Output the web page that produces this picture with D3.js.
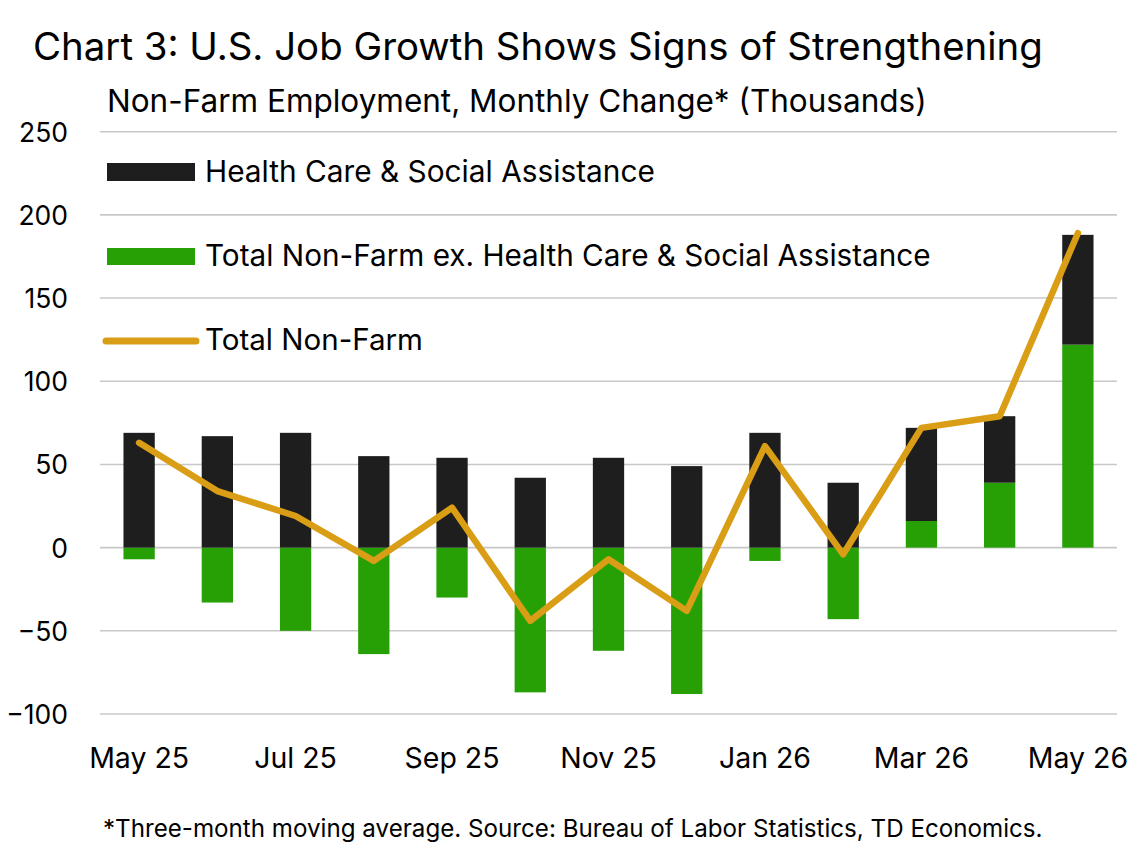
<!DOCTYPE html>
<html><head><meta charset="utf-8">
<script src="https://cdn.jsdelivr.net/npm/d3@7"></script>
<style>body{margin:0;background:#fff}svg{display:block}text{font-family:Inter,"Noto Sans",sans-serif;fill:#000}</style>
</head><body><svg id="c" width="1138" height="850"></svg>
<script>
const months = ["May 25","Jun 25","Jul 25","Aug 25","Sep 25","Oct 25","Nov 25","Dec 25","Jan 26","Feb 26","Mar 26","Apr 26","May 26"];
const healthCare = [69,67,69,55,54,42,54,49,69,39,56,40,66];
const exHealthCare = [-7,-33,-50,-64,-30,-87,-62,-88,-8,-43,16,39,122];
const totalNonFarm = [63,34,19,-8,24,-44,-7,-38,61,-4,72,79,189];
const yTicks = [-100,-50,0,50,100,150,200,250];
const xTickLabels = ["May 25","Jul 25","Sep 25","Nov 25","Jan 26","Mar 26","May 26"];
const legendLabels = ["Health Care & Social Assistance","Total Non-Farm ex. Health Care & Social Assistance","Total Non-Farm"];

const svg = d3.select("#c");
const C = {black:"#1e1e1e", green:"#26a005", gold:"#d99e15", grid:"#c8c8c8"};
const x = d3.scaleBand().domain(months).range([100,1117]);
const y = d3.scaleLinear().domain([-100,250]).range([714,131.7]);
const bw = x.bandwidth()*0.4;

function fit(sel, w){ const n=sel.node(); const fs=parseFloat(sel.attr("font-size")); const cw=n.getComputedTextLength(); sel.attr("font-size", fs*w/cw); }

// grid
svg.append("g").selectAll("line").data(yTicks).join("line")
  .attr("x1",100).attr("x2",1117).attr("y1",d=>y(d)).attr("y2",d=>y(d))
  .attr("stroke",C.grid).attr("stroke-width",1.6);

// y labels
const yAxis = d3.axisLeft(y).tickValues(yTicks).tickSize(0).tickPadding(0);
const ya = svg.append("g").attr("transform","translate(68,0)").call(yAxis);
ya.select(".domain").remove();
ya.selectAll("text").attr("font-size",26.5).attr("font-family","Inter").attr("fill","#000").attr("dy","0.36em");

// bars
const rows = months.map((m,i)=>({m,h:healthCare[i],e:exHealthCare[i],t:totalNonFarm[i]}));
const g = svg.append("g");
g.selectAll(".e").data(rows).join("rect")
  .attr("x",d=>x(d.m)+x.bandwidth()/2-bw/2).attr("width",bw)
  .attr("y",d=>y(Math.max(0,d.e))).attr("height",d=>Math.abs(y(d.e)-y(0)))
  .attr("fill",C.green);
g.selectAll(".h").data(rows).join("rect")
  .attr("x",d=>x(d.m)+x.bandwidth()/2-bw/2).attr("width",bw)
  .attr("y",d=>y(Math.max(0,d.e)+d.h)).attr("height",d=>y(Math.max(0,d.e))-y(Math.max(0,d.e)+d.h))
  .attr("fill",C.black);

// line
const line = d3.line().x(d=>x(d.m)+x.bandwidth()/2).y(d=>y(d.t));
svg.append("path").datum(rows).attr("d",line).attr("fill","none")
  .attr("stroke",C.gold).attr("stroke-width",6.5).attr("stroke-linejoin","round").attr("stroke-linecap","round");

// x labels
const xa = svg.append("g").attr("transform","translate(0,748)")
  .call(d3.axisBottom(x).tickValues(xTickLabels).tickSize(0).tickPadding(0));
xa.select(".domain").remove();
const xt = xa.selectAll("text").attr("font-size",26).attr("font-family","Inter").attr("fill","#000").attr("dy","0.71em");
const w0 = xt.node().getComputedTextLength();
xt.attr("font-size", 26*100/w0);

// legend
const lg = svg.append("g");
lg.append("rect").attr("x",107).attr("y",163).attr("width",88).attr("height",18).attr("fill",C.black);
lg.append("rect").attr("x",107).attr("y",248).attr("width",88).attr("height",17).attr("fill",C.green);
lg.append("line").attr("x1",106).attr("x2",196).attr("y1",341).attr("y2",341)
  .attr("stroke",C.gold).attr("stroke-width",7).attr("stroke-linecap","round");
const lt1 = lg.append("text").attr("x",205).attr("y",182).attr("font-size",28).text(legendLabels[0]); fit(lt1,450);
const lt2 = lg.append("text").attr("x",205).attr("y",266).attr("font-size",28).text(legendLabels[1]); fit(lt2,726);
const lt3 = lg.append("text").attr("x",205).attr("y",350).attr("font-size",28).text(legendLabels[2]); fit(lt3,218);

// titles
const t = svg.append("text").attr("x",33).attr("y",60).attr("font-size",34).text("Chart 3: U.S. Job Growth Shows Signs of Strengthening"); fit(t,1010);
const st = svg.append("text").attr("x",107).attr("y",112).attr("font-size",26).text("Non-Farm Employment, Monthly Change* (Thousands)"); fit(st,820);
const fn = svg.append("text").attr("x",103).attr("y",837).attr("font-size",21).text("*Three-month moving average. Source: Bureau of Labor Statistics, TD Economics."); fit(fn,940);
</script></body></html>
